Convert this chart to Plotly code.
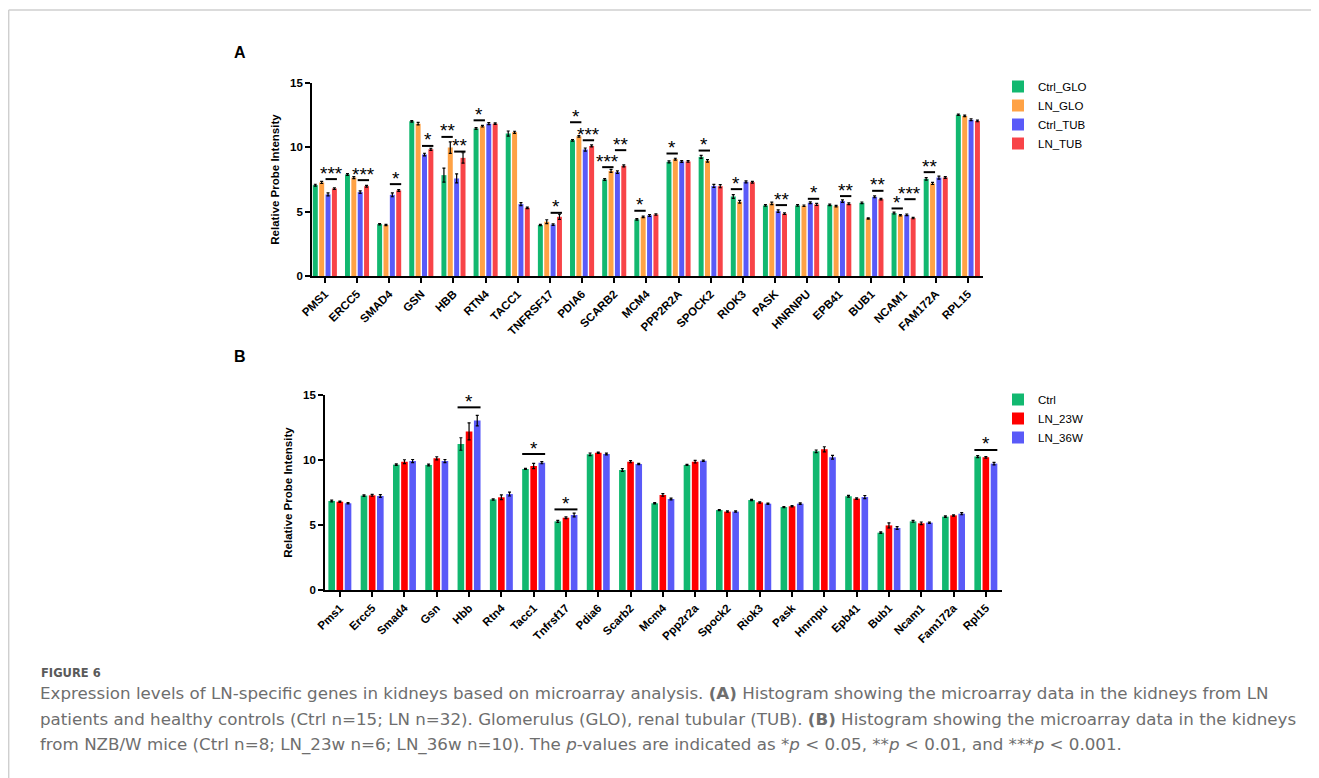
import plotly.graph_objects as go

# ---------------- Panel A data ----------------
genes_a = ["PMS1", "ERCC5", "SMAD4", "GSN", "HBB", "RTN4", "TACC1", "TNFRSF17", "PDIA6",
           "SCARB2", "MCM4", "PPP2R2A", "SPOCK2", "RIOK3", "PASK", "HNRNPU", "EPB41",
           "BUB1", "NCAM1", "FAM172A", "RPL15"]
ctrl_glo = [7.06, 7.89, 4.03, 12.02, 7.84, 11.46, 11.07, 3.96, 10.55, 7.50, 4.40, 8.87, 9.26,
            6.18, 5.48, 5.48, 5.53, 5.69, 4.89, 7.55, 12.54]
ln_glo = [7.27, 7.65, 3.96, 11.84, 9.98, 11.64, 11.17, 4.22, 10.86, 8.17, 4.60, 9.08, 8.95,
          5.77, 5.64, 5.46, 5.43, 4.47, 4.73, 7.19, 12.44]
ctrl_tub = [6.34, 6.52, 6.31, 9.44, 7.58, 11.84, 5.59, 4.00, 9.83, 8.07, 4.71, 8.90, 7.00,
            7.32, 5.04, 5.69, 5.82, 6.15, 4.76, 7.65, 12.15]
ln_tub = [6.80, 6.98, 6.65, 9.85, 9.18, 11.84, 5.30, 4.60, 10.11, 8.56, 4.78, 8.90, 6.98,
          7.29, 4.84, 5.56, 5.61, 5.97, 4.50, 7.65, 12.05]
err_ctrl_glo = [0.07, 0.07, 0.05, 0.06, 0.55, 0.07, 0.20, 0.05, 0.06, 0.07, 0.06, 0.08, 0.12,
                0.15, 0.06, 0.06, 0.06, 0.06, 0.07, 0.10, 0.05]
err_ln_glo = [0.08, 0.08, 0.05, 0.10, 0.45, 0.06, 0.08, 0.15, 0.06, 0.12, 0.06, 0.07, 0.10,
              0.10, 0.10, 0.06, 0.06, 0.05, 0.05, 0.08, 0.06]
err_ctrl_tub = [0.12, 0.10, 0.15, 0.10, 0.35, 0.08, 0.12, 0.06, 0.12, 0.10, 0.07, 0.07, 0.12,
                0.08, 0.10, 0.07, 0.10, 0.07, 0.06, 0.12, 0.07]
err_ln_tub = [0.06, 0.07, 0.07, 0.08, 0.40, 0.06, 0.06, 0.20, 0.08, 0.08, 0.06, 0.06, 0.12,
              0.07, 0.06, 0.08, 0.07, 0.06, 0.05, 0.07, 0.06]
series_a = ["Ctrl_GLO", "LN_GLO", "Ctrl_TUB", "LN_TUB"]
colors_a = ["#12B870", "#FFA245", "#5A5AF8", "#F84448"]

# significance in panel A: gene index, pair (0 = GLO bars, 1 = TUB bars), line level, label
sig_a_gene = [0, 1, 2, 3, 4, 4, 5, 7, 8, 8, 9, 9, 10, 11, 12, 13, 14, 15, 16, 17, 18, 18, 19]
sig_a_pair = [1, 1, 1, 1, 0, 1, 0, 1, 0, 1, 0, 1, 0, 0, 0, 0, 1, 1, 1, 1, 0, 1, 0]
sig_a_level = [7.53, 7.45, 7.14, 10.11, 10.81, 9.67, 12.10, 4.91, 11.95, 10.55, 8.46, 9.78,
               5.07, 9.52, 9.75, 6.75, 5.51, 6.00, 6.21, 6.62, 5.25, 5.97, 8.07]
sig_a_label = ["***", "***", "*", "*", "**", "**", "*", "*", "*", "***", "***", "**",
               "*", "*", "*", "*", "**", "*", "**", "**", "*", "***", "**"]

# ---------------- Panel B data ----------------
genes_b = ["Pms1", "Ercc5", "Smad4", "Gsn", "Hbb", "Rtn4", "Tacc1", "Tnfrsf17", "Pdia6",
           "Scarb2", "Mcm4", "Ppp2r2a", "Spock2", "Riok3", "Pask", "Hnrnpu", "Epb41",
           "Bub1", "Ncam1", "Fam172a", "Rpl15"]
ctrl_b = [6.85, 7.26, 9.64, 9.62, 11.23, 6.97, 9.31, 5.28, 10.44, 9.23, 6.67, 9.62, 6.15,
          6.92, 6.38, 10.67, 7.21, 4.41, 5.28, 5.64, 10.26]
ln23_b = [6.79, 7.28, 9.87, 10.13, 12.20, 7.13, 9.54, 5.56, 10.56, 9.87, 7.31, 9.87, 6.03,
          6.74, 6.44, 10.82, 7.03, 4.97, 5.13, 5.74, 10.21]
ln36_b = [6.67, 7.23, 9.92, 9.92, 13.03, 7.38, 9.79, 5.77, 10.46, 9.69, 7.00, 9.95, 6.03,
          6.64, 6.64, 10.21, 7.15, 4.77, 5.18, 5.87, 9.72]
err_ctrl_b = [0.07, 0.06, 0.06, 0.07, 0.48, 0.05, 0.04, 0.08, 0.10, 0.10, 0.05, 0.04, 0.04,
              0.05, 0.04, 0.10, 0.07, 0.06, 0.07, 0.06, 0.08]
err_ln23_b = [0.05, 0.07, 0.15, 0.12, 0.65, 0.18, 0.20, 0.07, 0.05, 0.08, 0.10, 0.10, 0.05,
              0.05, 0.05, 0.20, 0.06, 0.20, 0.10, 0.05, 0.06]
err_ln36_b = [0.05, 0.10, 0.12, 0.12, 0.40, 0.15, 0.08, 0.15, 0.07, 0.05, 0.07, 0.05, 0.05,
              0.05, 0.06, 0.15, 0.12, 0.10, 0.05, 0.08, 0.10]
series_b = ["Ctrl", "LN_23W", "LN_36W"]
colors_b = ["#12B870", "#FF0000", "#5A5AF8"]

sig_b_gene = [4, 6, 7, 20]
sig_b_level = [14.05, 10.46, 6.20, 10.77]
sig_b_label = ["*", "*", "*", "*"]

caption_head = "FIGURE 6"
caption_lines = [
    "Expression levels of LN-specific genes in kidneys based on microarray analysis. <b>(A)</b> Histogram showing the microarray data in the kidneys from LN",
    "patients and healthy controls (Ctrl n=15; LN n=32). Glomerulus (GLO), renal tubular (TUB). <b>(B)</b> Histogram showing the microarray data in the kidneys",
    "from NZB/W mice (Ctrl n=8; LN_23w n=6; LN_36w n=10). The <i>p</i>-values are indicated as *<i>p</i> &lt; 0.05, **<i>p</i> &lt; 0.01, and ***<i>p</i> &lt; 0.001.",
]

# ---------------- Figure ----------------
W, H = 1319, 778
OFF = 8  # page body margin around the figure
AX_FONT = "Liberation Sans, Arial, sans-serif"
CAP_FONT = "DejaVu Sans, sans-serif"


def fx(sx):
    return (sx - OFF) / W


def fy(sy):
    return 1 - (sy - OFF) / H


fig = go.Figure()

pitch_a, width_a = 0.198, 0.155
vals_a = [ctrl_glo, ln_glo, ctrl_tub, ln_tub]
errs_a = [err_ctrl_glo, err_ln_glo, err_ctrl_tub, err_ln_tub]
for k in range(4):
    center = (k - 1.5) * pitch_a
    fig.add_trace(go.Bar(
        x=genes_a, y=vals_a[k], name=series_a[k], marker_color=colors_a[k],
        marker_line_width=0, width=width_a, offset=center - width_a / 2,
        error_y=dict(type="data", array=errs_a[k], color="black", thickness=1.2, width=1.5),
        xaxis="x", yaxis="y", legend="legend",
    ))

pitch_b, width_b = 0.253, 0.205
vals_b = [ctrl_b, ln23_b, ln36_b]
errs_b = [err_ctrl_b, err_ln23_b, err_ln36_b]
for k in range(3):
    center = (k - 1) * pitch_b
    fig.add_trace(go.Bar(
        x=genes_b, y=vals_b[k], name=series_b[k], marker_color=colors_b[k],
        marker_line_width=0, width=width_b, offset=center - width_b / 2,
        error_y=dict(type="data", array=errs_b[k], color="black", thickness=1.2, width=1.5),
        xaxis="x2", yaxis="y2", legend="legend2",
    ))

shapes = []
annotations = []

star_font = dict(family=AX_FONT, size=19, color="black")

for g, p, lvl, lab in zip(sig_a_gene, sig_a_pair, sig_a_level, sig_a_label):
    c0 = ((2 * p) - 1.5) * pitch_a
    c1 = ((2 * p + 1) - 1.5) * pitch_a
    x0 = g + c0 - width_a / 2
    x1 = g + c1 + width_a / 2
    shapes.append(dict(type="line", xref="x", yref="y", x0=x0, x1=x1, y0=lvl, y1=lvl,
                       line=dict(color="black", width=2)))
    annotations.append(dict(xref="x", yref="y", x=(x0 + x1) / 2, y=lvl, text=lab,
                            showarrow=False, yanchor="middle", yshift=6, font=star_font))

for g, lvl, lab in zip(sig_b_gene, sig_b_level, sig_b_label):
    x0 = g - pitch_b - width_b / 2
    x1 = g + pitch_b + width_b / 2
    shapes.append(dict(type="line", xref="x2", yref="y2", x0=x0, x1=x1, y0=lvl, y1=lvl,
                       line=dict(color="black", width=2)))
    annotations.append(dict(xref="x2", yref="y2", x=g, y=lvl, text=lab,
                            showarrow=False, yanchor="middle", yshift=6, font=star_font))

# page border lines
shapes.append(dict(type="line", xref="paper", yref="paper", x0=0.0005, x1=1, y0=fy(10), y1=fy(10),
                   line=dict(color="#CFCFCF", width=1.5)))
shapes.append(dict(type="line", xref="paper", yref="paper", x0=0.0005, x1=0.0005, y0=fy(10), y1=0,
                   line=dict(color="#CFCFCF", width=1.5)))

# panel letters
annotations.append(dict(xref="paper", yref="paper", x=fx(240), y=fy(53), text="<b>A</b>",
                        showarrow=False, xanchor="center", yanchor="middle",
                        font=dict(family=AX_FONT, size=16, color="black")))
annotations.append(dict(xref="paper", yref="paper", x=fx(240), y=fy(357), text="<b>B</b>",
                        showarrow=False, xanchor="center", yanchor="middle",
                        font=dict(family=AX_FONT, size=16, color="black")))

# caption
annotations.append(dict(xref="paper", yref="paper", x=fx(39), y=fy(673), text="<b>" + caption_head + "</b>",
                        showarrow=False, xanchor="left", yanchor="middle",
                        font=dict(family=CAP_FONT, size=11.5, color="#5A5A5A")))
for i, line in enumerate(caption_lines):
    annotations.append(dict(xref="paper", yref="paper", x=fx(38), y=fy(693 + 25.5 * i), text=line,
                            showarrow=False, xanchor="left", yanchor="middle",
                            font=dict(family=CAP_FONT, size=16.7, color="#6E6E6E")))

axis_common = dict(
    showline=True, linecolor="black", linewidth=1.6, ticks="outside", ticklen=5,
    tickwidth=1.6, tickcolor="black", showgrid=False, zeroline=False, automargin=False,
    tickfont=dict(family=AX_FONT, size=11.5, color="black", weight="bold"),
)
ytitle_font = dict(family=AX_FONT, size=11.5, color="black")

fig.update_layout(
    width=W, height=H, margin=dict(l=0, r=0, t=0, b=0),
    paper_bgcolor="white", plot_bgcolor="white",
    showlegend=True,
    xaxis=dict(domain=[fx(312), fx(983)], anchor="y", type="category",
               range=[-0.4, 20.47], tickangle=-45, **axis_common),
    yaxis=dict(domain=[fy(276), fy(83)], anchor="x", range=[0, 15], tickvals=[0, 5, 10, 15],
               title=dict(text="<b>Relative Probe Intensity</b>", standoff=8, font=ytitle_font),
               **axis_common),
    xaxis2=dict(domain=[fx(325), fx(1002)], anchor="y2", type="category",
                range=[-0.46, 20.5], tickangle=-45, **axis_common),
    yaxis2=dict(domain=[fy(590), fy(395)], anchor="x2", range=[0, 15], tickvals=[0, 5, 10, 15],
                title=dict(text="<b>Relative Probe Intensity</b>", standoff=8, font=ytitle_font),
                **axis_common),
    legend=dict(x=fx(998), y=fy(72), xanchor="left", yanchor="top",
                font=dict(family=AX_FONT, size=11.5, color="black"),
                bgcolor="rgba(0,0,0,0)", tracegroupgap=0),
    legend2=dict(x=fx(998), y=fy(385), xanchor="left", yanchor="top",
                 font=dict(family=AX_FONT, size=11.5, color="black"),
                 bgcolor="rgba(0,0,0,0)", tracegroupgap=0),
    shapes=shapes, annotations=annotations,
)

fig.write_html("out.html")
